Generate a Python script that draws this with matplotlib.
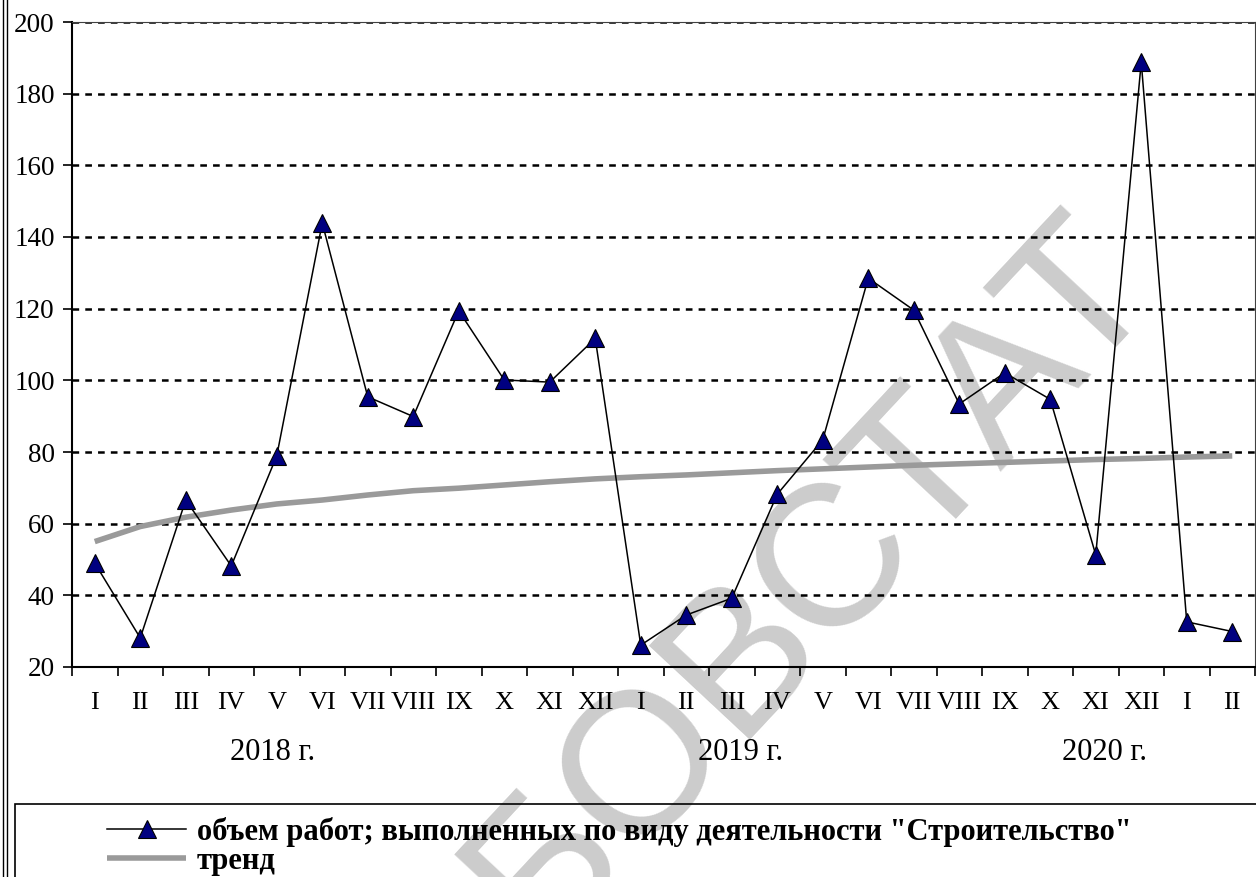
import numpy as np
import matplotlib
matplotlib.use('Agg')
import matplotlib.pyplot as plt
from matplotlib.lines import Line2D
from matplotlib.patches import Rectangle
import matplotlib.transforms as mtransforms

plt.rcParams['font.family'] = ['Liberation Serif', 'DejaVu Serif']
plt.rcParams['lines.scale_dashes'] = False

# months I 2018 .. II 2020
months = ['I', 'II', 'III', 'IV', 'V', 'VI', 'VII', 'VIII', 'IX', 'X', 'XI', 'XII',
          'I', 'II', 'III', 'IV', 'V', 'VI', 'VII', 'VIII', 'IX', 'X', 'XI', 'XII',
          'I', 'II']
volume = [49.0, 28.1, 66.6, 48.2, 78.9, 143.9, 95.4, 89.9, 119.4, 100.1, 99.5, 111.7,
          26.1, 34.5, 39.2, 68.2, 83.4, 128.5, 119.6, 93.4, 102.1, 94.7, 51.3, 188.8,
          32.6, 29.9]
trend = [55.0, 59.2, 61.8, 63.8, 65.5, 66.6, 68.0, 69.2, 69.9, 70.8, 71.7, 72.5,
         73.1, 73.6, 74.2, 74.8, 75.3, 75.8, 76.3, 76.7, 77.1, 77.5, 77.9, 78.2,
         78.6, 78.9]
years = ['2018 г.', '2019 г.', '2020 г.']
year_pos = [4.9, 15.2, 23.2]

label_volume = 'объем работ; выполненных по виду деятельности "Строительство"'
label_trend = 'тренд'

x = np.arange(1, len(volume) + 1)

W, H = 1256, 877
fig = plt.figure(figsize=(W / 100, H / 100), dpi=100)
ax = fig.add_axes([72 / W, 1 - 667 / H, (1255 - 72) / W, (667 - 22) / H])
ax.set_facecolor('none')

tr, = ax.plot(x, trend, color='#9a9a9a', lw=4.0, solid_capstyle='butt', zorder=3)
vl, = ax.plot(x, volume, color='black', lw=1.1, marker='^', ms=13,
              mfc='#000080', mec='black', mew=0.8, zorder=4)

ax.set_xlim(0.5, len(volume) + 0.5)
ax.set_ylim(20, 200)
ax.set_yticks(np.arange(20, 201, 20))
ax.yaxis.grid(True, color='black', lw=1.8, linestyle=(0, (4.8, 4.4)))
ax.set_axisbelow(True)

ax.set_xticks(np.arange(0.5, len(volume) + 1, 1))
ax.set_xticklabels([])
ax.set_xticks(x, minor=True)
ax.set_xticklabels(months, minor=True)
ax.tick_params(axis='x', which='major', length=6.5, width=1.2, direction='out')
ax.tick_params(axis='x', which='minor', length=0, pad=18, labelsize=19)
ax.tick_params(axis='y', length=6.5, width=1.2, direction='out', pad=6, labelsize=19.5)

for s in ['left', 'bottom']:
    ax.spines[s].set_linewidth(1.5)
for s in ['top', 'right']:
    ax.spines[s].set_linewidth(0.8)
    ax.spines[s].set_color('#404040')

trans = mtransforms.blended_transform_factory(ax.transData, ax.transAxes)
for name, pos in zip(years, year_pos):
    ax.text(pos, (667 - 753) / 645, name, transform=trans, ha='center', va='center',
            fontsize=22)

# frame lines of the picture
for xx in [3, 7]:
    fig.add_artist(Line2D([xx / W, xx / W], [0, 1], transform=fig.transFigure,
                          color='black', lw=1.0))
fig.add_artist(Rectangle((15 / W, -0.05), 1.0, (877 - 804) / H + 0.05,
                         transform=fig.transFigure, fill=False, lw=1.2,
                         edgecolor='black'))

fig.legend(handles=[vl, tr], labels=[label_volume, label_trend],
           loc='upper left', bbox_to_anchor=(107 / W, 1 - 817 / H),
           frameon=False, borderpad=0, borderaxespad=0, handlelength=2.6,
           handletextpad=0.33, labelspacing=0.0,
           prop={'family': 'Liberation Serif', 'weight': 'bold', 'size': 22})

# watermark
fig.text(812 / W, 1 - 580 / H, 'БОВСТАТ', rotation=47, fontsize=145,
         family='Liberation Sans', color='#cccccc', ha='center', va='center',
         rotation_mode='anchor', zorder=-1)

fig.savefig('out.png', dpi=100)
